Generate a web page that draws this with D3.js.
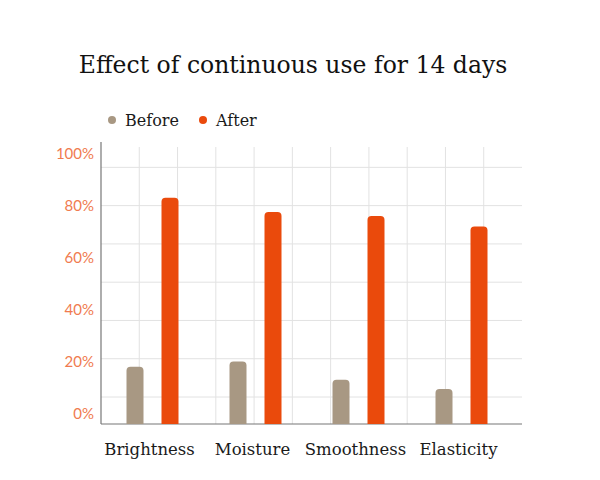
<!DOCTYPE html>
<html>
<head>
<meta charset="utf-8">
<script src="https://cdn.jsdelivr.net/npm/d3@7"></script>
<style>
  body { margin: 0; background: #fff; }
  svg text { font-family: "DejaVu Serif", serif; }
</style>
</head>
<body>
<div id="chart"></div>
<script>
var categories = ['Brightness', 'Moisture', 'Smoothness', 'Elasticity'];
var seriesNames = ['Before', 'After'];
var before = [22, 24, 17, 13.5];
var after = [87, 81.5, 80, 76];
var yTicks = [0, 20, 40, 60, 80, 100];

var width = 600;
var height = 480;
var colors = { Before: '#a89883', After: '#ea4a0c' };

var svg = d3.select('#chart').append('svg')
    .attr('width', width)
    .attr('height', height);

var plotLeft = 101, plotRight = 522, plotTop = 147, plotBottom = 424;

var x = d3.scaleBand()
    .domain(categories)
    .range([plotLeft, 513]);

var y = d3.scaleLinear()
    .domain([0, 100])
    .range([plotBottom, 164]);

// background grid
var cell = (plotRight - plotLeft) / 11;
var grid = svg.append('g').attr('class', 'grid');
grid.selectAll('.vline')
    .data(d3.range(1, 11))
  .enter().append('line')
    .attr('x1', function(d) { return plotLeft + d * cell; })
    .attr('x2', function(d) { return plotLeft + d * cell; })
    .attr('y1', plotTop)
    .attr('y2', plotBottom)
    .attr('stroke', '#e2e2e2');
grid.selectAll('.hline')
    .data(d3.range(0, 7))
  .enter().append('line')
    .attr('x1', plotLeft)
    .attr('x2', plotRight)
    .attr('y1', function(d) { return 397 - d * cell; })
    .attr('y2', function(d) { return 397 - d * cell; })
    .attr('stroke', '#e2e2e2');

// axes
svg.append('line')
    .attr('x1', plotLeft).attr('x2', plotLeft)
    .attr('y1', 142).attr('y2', plotBottom)
    .attr('stroke', '#777').attr('stroke-width', 1.2);
svg.append('line')
    .attr('x1', plotLeft).attr('x2', plotRight)
    .attr('y1', plotBottom).attr('y2', plotBottom)
    .attr('stroke', '#777').attr('stroke-width', 1.2);

svg.selectAll('.ylabel')
    .data(yTicks)
  .enter().append('text')
    .attr('class', 'ylabel')
    .attr('x', 94)
    .attr('y', function(d) { return y(d) - 10; })
    .attr('dy', '0.35em')
    .attr('text-anchor', 'end')
    .style('font-family', 'Lato, sans-serif')
    .style('font-size', '15px')
    .attr('fill', '#f07b4f')
    .text(function(d) { return d + '%'; });

svg.selectAll('.xlabel')
    .data(categories)
  .enter().append('text')
    .attr('class', 'xlabel')
    .attr('x', function(d) { return x(d) + x.bandwidth() / 2 - 3; })
    .attr('y', 455)
    .attr('text-anchor', 'middle')
    .style('font-size', '16.5px')
    .attr('fill', '#1a1a1a')
    .text(function(d) { return d; });

// bars with rounded top corners
function barPath(x0, w, yTop, yBase, r) {
    r = Math.min(r, (yBase - yTop));
    return 'M' + x0 + ',' + yBase +
        'V' + (yTop + r) +
        'Q' + x0 + ',' + yTop + ' ' + (x0 + r) + ',' + yTop +
        'H' + (x0 + w - r) +
        'Q' + (x0 + w) + ',' + yTop + ' ' + (x0 + w) + ',' + (yTop + r) +
        'V' + yBase + 'Z';
}

var rows = [];
categories.forEach(function(c, i) {
    rows.push({ cat: c, key: 'Before', value: before[i] });
    rows.push({ cat: c, key: 'After', value: after[i] });
});

svg.selectAll('.bar')
    .data(rows)
  .enter().append('path')
    .attr('class', 'bar')
    .attr('fill', function(d) { return colors[d.key]; })
    .attr('d', function(d) {
        var cx = x(d.cat) + x.bandwidth() / 2 + (d.key === 'Before' ? -17.5 : 17.5);
        return barPath(cx - 8.5, 17, y(d.value), plotBottom, 4);
    });

// legend
var legend = svg.append('g');
var legendX = { Before: 112, After: 203 };
seriesNames.forEach(function(s) {
    legend.append('circle')
        .attr('cx', legendX[s])
        .attr('cy', 120)
        .attr('r', 4)
        .attr('fill', colors[s]);
    legend.append('text')
        .attr('x', legendX[s] + 13)
        .attr('y', 126)
        .style('font-size', '16px')
        .attr('fill', '#1a1a1a')
        .text(s);
});

svg.append('text')
    .attr('x', 293)
    .attr('y', 73)
    .attr('text-anchor', 'middle')
    .style('font-size', '23.5px')
    .attr('fill', '#111')
    .text('Effect of continuous use for 14 days');
</script>
</body>
</html>
